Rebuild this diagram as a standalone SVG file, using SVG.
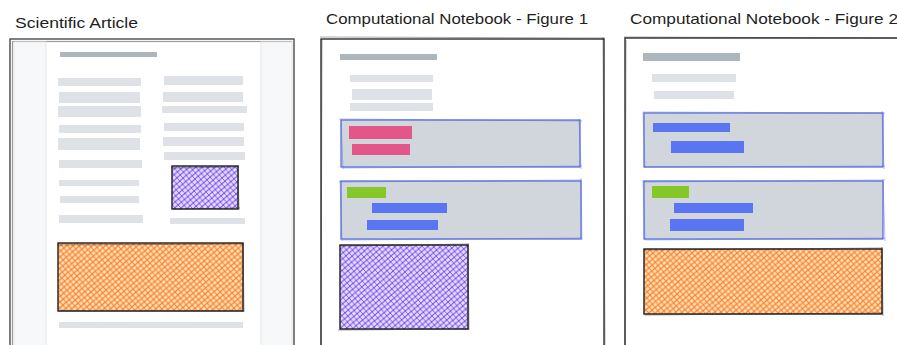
<svg xmlns="http://www.w3.org/2000/svg" width="897" height="345" viewBox="0 0 897 345">
<style>
.title{font-family:"Liberation Sans","DejaVu Sans",sans-serif;font-size:15px;fill:#1e1e1e}
.frame{fill:#ffffff;stroke:#1e1e1e;stroke-width:1.3}
.frame2{fill:none;stroke:#1e1e1e;stroke-width:0.7;opacity:.55}
.gframe{fill:#ffffff;stroke:#4a4a4a;stroke-width:1.4}
.gframe2{fill:none;stroke:#9a9a9a;stroke-width:1.2}
.gut{fill:#f7f8f9;stroke:#e4e6e9;stroke-width:1}
.tb{fill:#adb5bd}
.bar{fill:#dee2e6}
.cell{fill:#d1d6dd;stroke:#4f67e0;stroke-width:1.2}
.cell2{fill:none;stroke:#4f67e0;stroke-width:0.7;opacity:.6}
.pink{fill:#e2568a}
.green{fill:#86c72a}
.blue{fill:#5a75f2}
.fig{stroke:#1e1e1e;stroke-width:1.4}
.fig2{fill:none;stroke:#1e1e1e;stroke-width:0.7;opacity:.6}
</style>
<defs>
<pattern id="hatchO" patternUnits="userSpaceOnUse" width="6" height="6" patternTransform="rotate(4)">
<rect width="6" height="6" fill="#fee2c8"/>
<path d="M0,6 L6,0 M-1,1 L1,-1 M5,7 L7,5" stroke="#fd8524" stroke-width="1.3"/>
<path d="M0,0 L6,6 M-1,5 L1,7 M5,-1 L7,1" stroke="#fd8524" stroke-width="1.1"/>
</pattern>
<pattern id="hatchP" patternUnits="userSpaceOnUse" width="6" height="6" patternTransform="rotate(4)">
<rect width="6" height="6" fill="#e6ddfd"/>
<path d="M0,6 L6,0 M-1,1 L1,-1 M5,7 L7,5" stroke="#7c55f2" stroke-width="1.2"/>
<path d="M0,0 L6,6 M-1,5 L1,7 M5,-1 L7,1" stroke="#7c55f2" stroke-width="1"/>
</pattern>
</defs>
<rect width="897" height="345" fill="#ffffff"/>

<g id="article">
<text class="title" x="15" y="28" textLength="123" lengthAdjust="spacingAndGlyphs">Scientific Article</text>
<rect class="gframe" x="10" y="39" width="284" height="320"/>
<rect class="gframe2" x="12.5" y="41.5" width="279" height="315"/>
<rect class="gut" x="14" y="42" width="32" height="310"/>
<rect class="gut" x="261" y="42" width="31" height="310"/>
<rect class="tb" x="60" y="52" width="97" height="5"/>
<g id="article-col1">
<rect class="bar" x="58" y="78" width="83" height="8"/>
<rect class="bar" x="59" y="92" width="81" height="11"/>
<rect class="bar" x="58" y="106" width="83" height="11"/>
<rect class="bar" x="59" y="125" width="82" height="8"/>
<rect class="bar" x="58" y="138" width="82" height="12"/>
<rect class="bar" x="59" y="160" width="83" height="8"/>
<rect class="bar" x="59" y="180" width="80" height="6"/>
<rect class="bar" x="60" y="196" width="79" height="7"/>
<rect class="bar" x="59" y="215" width="84" height="8"/>
</g>
<g id="article-col2">
<rect class="bar" x="164" y="76" width="79" height="9"/>
<rect class="bar" x="163" y="92" width="80" height="10"/>
<rect class="bar" x="162" y="106" width="85" height="7"/>
<rect class="bar" x="164" y="123" width="80" height="8"/>
<rect class="bar" x="163" y="137" width="81" height="9"/>
<rect class="bar" x="164" y="152" width="81" height="8"/>
<rect class="bar" x="170" y="218" width="75" height="6"/>
</g>
<g id="article-fig1">
<rect x="172" y="166" width="66" height="43" fill="url(#hatchP)" class="fig"/>
<path class="fig2" d="M171,168 L239,167 M238,165 L239,210 M173,209 L240,208"/>
</g>
<g id="article-fig2">
<rect x="58" y="243" width="185" height="68" fill="url(#hatchO)" class="fig"/>
<path class="fig2" d="M57,245 L244,244 M243,243 L244,312 M59,311 L244,311"/>
</g>
<rect class="bar" x="59" y="322" width="184" height="6"/>
</g>

<g id="notebook1">
<text class="title" x="326" y="24" textLength="262" lengthAdjust="spacingAndGlyphs">Computational Notebook - Figure 1</text>
<rect class="frame" x="321" y="39" width="283" height="320"/>
<path class="frame2" d="M320,37 L605,38 M603,37 L605,345 M322,40 L321,345"/>
<rect class="tb" x="340" y="54" width="97" height="6"/>
<rect class="bar" x="350" y="75" width="83" height="7"/>
<rect class="bar" x="352" y="89" width="80" height="11"/>
<rect class="bar" x="350" y="103" width="83" height="8"/>
<g id="nb1-cell1">
<rect class="cell" x="341" y="120" width="239" height="47"/>
<path class="cell2" d="M339,119 L582,121 M579,119 L581,169 M343,168 L582,166 M341,119 L343,169"/>
<rect class="pink" x="349" y="126" width="63" height="13"/>
<rect class="pink" x="352" y="144" width="58" height="11"/>
</g>
<g id="nb1-cell2">
<rect class="cell" x="341" y="181" width="240" height="58"/>
<path class="cell2" d="M339,182 L582,180 M581,178 L582,240 M342,240 L582,238 M340,180 L342,241"/>
<rect class="green" x="347" y="187" width="39" height="11"/>
<rect class="blue" x="372" y="203" width="75" height="10"/>
<rect class="blue" x="367" y="220" width="71" height="10"/>
</g>
<g id="nb1-fig">
<rect x="340" y="245" width="128" height="84" fill="url(#hatchP)" class="fig"/>
<path class="fig2" d="M339,246 L469,244 M468,244 L469,330 M338,330 L469,329"/>
</g>
</g>

<g id="notebook2">
<text class="title" x="630" y="24" textLength="268" lengthAdjust="spacingAndGlyphs">Computational Notebook - Figure 2</text>
<rect class="frame" x="625" y="38" width="300" height="320"/>
<path class="frame2" d="M624,37 L897,38 M626,40 L625,345"/>
<rect class="tb" x="643" y="53" width="97" height="8"/>
<rect class="bar" x="652" y="74" width="84" height="8"/>
<rect class="bar" x="654" y="91" width="80" height="8"/>
<g id="nb2-cell1">
<rect class="cell" x="644" y="113" width="239" height="54"/>
<path class="cell2" d="M643,112 L885,113 M882,111 L884,169 M645,167 L885,166 M643,112 L645,168"/>
<rect class="blue" x="653" y="123" width="77" height="9"/>
<rect class="blue" x="671" y="141" width="73" height="12"/>
</g>
<g id="nb2-cell2">
<rect class="cell" x="644" y="181" width="239" height="58"/>
<path class="cell2" d="M643,182 L885,180 M883,179 L885,241 M645,240 L885,238 M643,180 L645,240"/>
<rect class="green" x="652" y="186" width="37" height="12"/>
<rect class="blue" x="674" y="203" width="79" height="10"/>
<rect class="blue" x="670" y="219" width="74" height="12"/>
</g>
<g id="nb2-fig">
<rect x="644" y="249" width="238" height="65" fill="url(#hatchO)" class="fig"/>
<path class="fig2" d="M643,250 L883,248 M882,247 L883,316 M645,315 L883,313"/>
</g>
</g>
</svg>
